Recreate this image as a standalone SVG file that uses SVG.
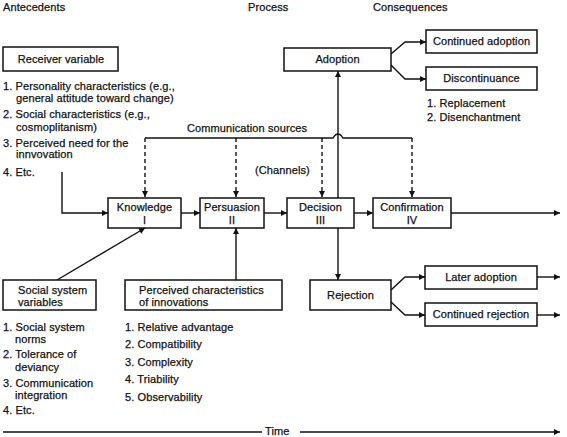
<svg xmlns="http://www.w3.org/2000/svg" width="567" height="437" viewBox="0 0 567 437">
<defs>
<marker id="ah" viewBox="0 0 10 10" refX="10" refY="5" markerWidth="8" markerHeight="6" markerUnits="userSpaceOnUse" orient="auto">
<path d="M0,0 L10,5 L0,10 Z" fill="#111"/>
</marker>
</defs>
<style>
text{font-family:"Liberation Sans",Arial,sans-serif;font-size:11px;letter-spacing:0.1px;fill:#111;stroke:#111;stroke-width:0.25}
.c{text-anchor:middle}
rect{fill:#fff;stroke:#111;stroke-width:1.5}
.ln{fill:none;stroke:#111;stroke-width:1.4}
.ar{fill:none;stroke:#111;stroke-width:1.4;marker-end:url(#ah)}
.da{fill:none;stroke:#111;stroke-width:1.4;stroke-dasharray:4,3;marker-end:url(#ah)}
</style>
<rect x="0" y="0" width="567" height="437" style="fill:#fff;stroke:none"/>
<g id="headers">
<text x="3" y="11">Antecedents</text>
<text x="248" y="11">Process</text>
<text x="373" y="11">Consequences</text>
</g>
<g id="connectors">
<path class="ln" d="M145,138 H333 Q338,130 343,138 H412"/>
<path class="da" d="M145,138 V197"/>
<path class="da" d="M236,138 V197"/>
<path class="da" d="M322,138 V197"/>
<path class="da" d="M412,138 V197"/>
<path class="ar" d="M62,172 V213 H108"/>
<path class="ar" d="M181,213 H200"/>
<path class="ar" d="M264,213 H287"/>
<path class="ar" d="M354,213 H373"/>
<path class="ar" d="M451,213 H560"/>
<path class="ar" d="M57,280 L145,228"/>
<path class="ar" d="M236,280 V228"/>
<path class="ar" d="M338,198 V71"/>
<path class="ar" d="M338,228 V280"/>
<path class="ar" d="M391,54 L405,42 H426"/>
<path class="ar" d="M391,65 L405,79 H426"/>
<path class="ar" d="M391,290 L405,277 H425"/>
<path class="ar" d="M391,302 L405,315 H425"/>
<path class="ar" d="M537,277 H560"/>
<path class="ar" d="M537,315 H560"/>
<path class="ln" d="M3,432 H262"/>
<path class="ar" d="M300,432 H560"/>
</g>
<g id="receiver">
<rect x="3" y="47" width="115" height="24"/>
<text class="c" x="61" y="63">Receiver variable</text>
<text x="3" y="90">1. Personality characteristics (e.g.,</text>
<text x="16" y="102">general attitude toward change)</text>
<text x="3" y="118">2. Social characteristics (e.g.,</text>
<text x="16" y="131">cosmoplitanism)</text>
<text x="3" y="147">3. Perceived need for the</text>
<text x="16" y="158">innvovation</text>
<text x="3" y="176">4. Etc.</text>
</g>
<g id="comm">
<text x="187" y="132">Communication sources</text>
<text x="255" y="174">(Channels)</text>
</g>
<g id="knowledge">
<rect x="108" y="198" width="73" height="30"/>
<text class="c" x="144.5" y="211">Knowledge</text>
<text class="c" x="144.5" y="224">I</text>
</g>
<g id="persuasion">
<rect x="200" y="198" width="64" height="30"/>
<text class="c" x="232" y="211">Persuasion</text>
<text class="c" x="232" y="224">II</text>
</g>
<g id="decision">
<rect x="287" y="198" width="67" height="30"/>
<text class="c" x="320.5" y="211">Decision</text>
<text class="c" x="320.5" y="224">III</text>
</g>
<g id="confirmation">
<rect x="373" y="198" width="78" height="30"/>
<text class="c" x="412" y="211">Confirmation</text>
<text class="c" x="412" y="224">IV</text>
</g>
<g id="adoption">
<rect x="284" y="48" width="107" height="23"/>
<text class="c" x="337.5" y="63">Adoption</text>
</g>
<g id="continued-adoption">
<rect x="426" y="30" width="111" height="23"/>
<text class="c" x="481.5" y="45">Continued adoption</text>
</g>
<g id="discontinuance">
<rect x="426" y="67" width="111" height="23"/>
<text class="c" x="481.5" y="82">Discontinuance</text>
<text x="427" y="107">1. Replacement</text>
<text x="427" y="121">2. Disenchantment</text>
</g>
<g id="rejection">
<rect x="310" y="280" width="81" height="30"/>
<text class="c" x="350.5" y="299">Rejection</text>
</g>
<g id="later-adoption">
<rect x="425" y="266" width="112" height="23"/>
<text class="c" x="481" y="281">Later adoption</text>
</g>
<g id="continued-rejection">
<rect x="425" y="303" width="112" height="23"/>
<text class="c" x="481" y="318">Continued rejection</text>
</g>
<g id="social">
<rect x="3" y="280" width="93" height="30"/>
<text x="18" y="294">Social system</text>
<text x="18" y="306">variables</text>
<text x="3" y="331">1. Social system</text>
<text x="15" y="343">norms</text>
<text x="3" y="358">2. Tolerance of</text>
<text x="15" y="371">deviancy</text>
<text x="3" y="387">3. Communication</text>
<text x="15" y="399">integration</text>
<text x="3" y="414">4. Etc.</text>
</g>
<g id="perceived">
<rect x="125" y="280" width="157" height="30"/>
<text x="139" y="294">Perceived characteristics</text>
<text x="139" y="306">of innovations</text>
<text x="125" y="331">1. Relative advantage</text>
<text x="125" y="348">2. Compatibility</text>
<text x="125" y="366">3. Complexity</text>
<text x="125" y="383">4. Triability</text>
<text x="125" y="401">5. Observability</text>
</g>
<g id="time">
<text x="265" y="435">Time</text>
</g>
</svg>
